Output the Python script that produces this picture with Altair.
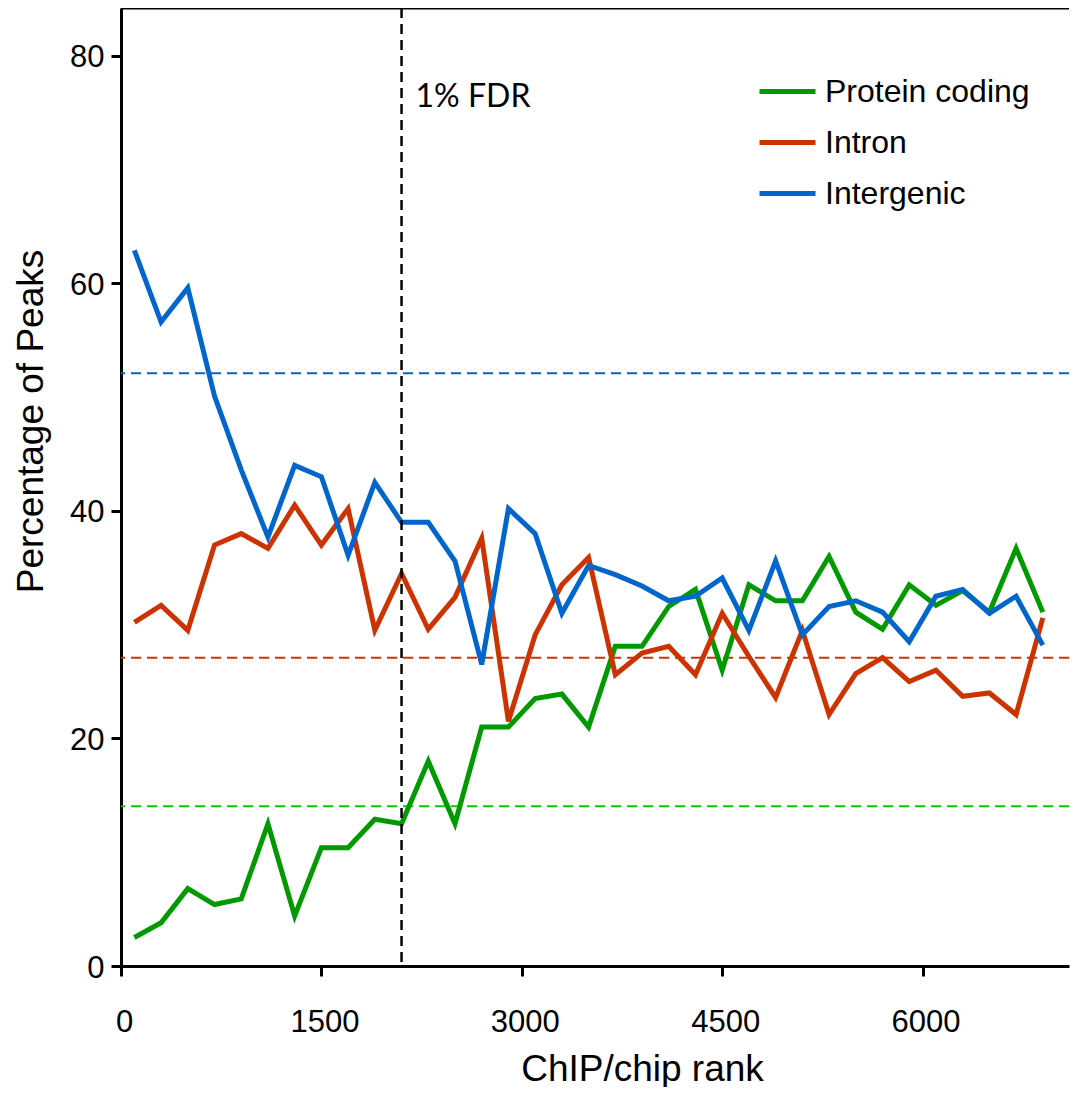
import altair as alt
import pandas as pd

# ---- data ----
ranks = [100, 300, 500, 700, 900, 1100, 1300, 1500, 1700, 1900, 2100, 2300,
         2500, 2700, 2900, 3100, 3300, 3500, 3700, 3900, 4100, 4300, 4500,
         4700, 4900, 5100, 5300, 5500, 5700, 5900, 6100, 6300, 6500, 6700, 6900]

protein_coding = [2.5, 3.8, 6.8, 5.4, 5.9, 12.5, 4.4, 10.4, 10.4, 12.9, 12.5, 18.0,
                  12.5, 21.0, 21.0, 23.5, 23.9, 21.0, 28.1, 28.1, 31.6, 33.1, 26.0,
                  33.5, 32.1, 32.1, 36.0, 31.1, 29.6, 33.5, 31.7, 33.0, 31.1, 36.7, 31.1]

intron = [30.2, 31.7, 29.5, 37.0, 38.0, 36.7, 40.5, 37.0, 40.2, 29.5, 34.5, 29.6,
          32.4, 37.6, 21.5, 29.1, 33.5, 35.9, 25.6, 27.5, 28.1, 25.6, 31.0,
          27.2, 23.6, 29.5, 22.1, 25.7, 27.1, 25.0, 26.0, 23.7, 24.0, 22.1, 30.6]

intergenic = [62.9, 56.6, 59.6, 50.1, 43.6, 37.7, 44.0, 43.0, 36.1, 42.5, 39.0, 39.0,
              35.6, 26.5, 40.2, 38.0, 31.0, 35.2, 34.4, 33.4, 32.1, 32.5, 34.1,
              29.5, 35.6, 29.1, 31.6, 32.1, 31.1, 28.5, 32.5, 33.1, 31.0, 32.5, 28.2]

series_names = ["Protein coding", "Intron", "Intergenic"]
line_colors = ["#009900", "#CC3300", "#0066CC"]
mean_colors = ["#00CC00", "#CC3300", "#0066CC"]
mean_values = [14.05, 27.1, 52.1]

fdr_rank = 2100
fdr_label = "1% FDR"
fdr_label_y = 75.5

x_ticks = [0, 1500, 3000, 4500, 6000]
y_ticks = [0, 20, 40, 60, 80]
x_max = 7096
y_max = 84.2

# ---- tables ----
rows = []
for name, vals in zip(series_names, [protein_coding, intron, intergenic]):
    for r, v in zip(ranks, vals):
        rows.append({"rank": r, "pct": v, "series": name})
df = pd.DataFrame(rows)
top_df = pd.DataFrame({"top": [y_max]})

FONT = "Liberation Sans"

x_scale = alt.Scale(domain=[0, x_max], nice=False, zero=False)
y_scale = alt.Scale(domain=[0, y_max], nice=False, zero=False)

x_axis = alt.Axis(values=x_ticks, title="ChIP/chip rank", tickSize=10,
                  labelPadding=31, labelOffset=3, labelFlush=False,
                  titleX=521, titleY=114, titleAlign="center",
                  titleBaseline="alphabetic", format="d")
y_axis = alt.Axis(values=y_ticks, title="Percentage of Peaks", tickSize=10,
                  labelPadding=7, labelOffset=2, labelFlush=False,
                  titleX=-79, titleY=413, titleAngle=270, titleAlign="center",
                  titleBaseline="alphabetic")

legend = alt.Legend(title=None, orient="none", legendX=636, legendY=53,
                    symbolType="stroke", symbolSize=3136, symbolStrokeWidth=5,
                    labelFont=FONT, labelFontSize=32, labelColor="black",
                    labelOffset=7, rowPadding=4, padding=0, labelLimit=400)

mean_rules = [
    alt.Chart(pd.DataFrame({"mean": [v]})).mark_rule(
        strokeDash=[10, 6], strokeWidth=2, color=c
    ).encode(y=alt.Y("mean:Q", scale=y_scale, axis=y_axis))
    for v, c in zip(mean_values, mean_colors)
]

base = alt.Chart(df).mark_line(strokeWidth=5, strokeJoin="miter").encode(
    x=alt.X("rank:Q", scale=x_scale, axis=x_axis),
    y=alt.Y("pct:Q", scale=y_scale, axis=y_axis),
    color=alt.Color("series:N", scale=alt.Scale(domain=series_names, range=line_colors),
                    legend=legend),
)
lines = [base.transform_filter(alt.datum.series == s) for s in series_names]

fdr_rule = alt.Chart(top_df).mark_rule(strokeDash=[10, 6], strokeWidth=2.5, color="black").encode(
    x=alt.X("fdr:Q", scale=x_scale, axis=x_axis)
).transform_calculate(fdr=str(fdr_rank))
fdr_text = alt.Chart(top_df).mark_text(font="Lato", fontSize=32, align="left",
                                       baseline="alphabetic", dx=14, color="black").encode(
    x=alt.X("fdr:Q", scale=x_scale, axis=x_axis),
    y=alt.Y("ly:Q", scale=y_scale, axis=y_axis),
    text=alt.value(fdr_label),
).transform_calculate(fdr=str(fdr_rank), ly=str(fdr_label_y))
top_rule = alt.Chart(top_df).mark_rule(strokeWidth=3, color="black").encode(
    y=alt.Y("top:Q", scale=y_scale, axis=y_axis)
)

chart = alt.layer(*mean_rules, *lines, fdr_rule, fdr_text, top_rule).properties(
    width=948, height=958,
    autosize=alt.AutoSizeParams(type="none"),
    padding={"left": 113, "top": 0, "right": 1, "bottom": 121},
).configure_view(stroke=None).configure_axis(
    domainColor="black", domainWidth=3, tickColor="black", tickWidth=3, grid=False,
    labelFont=FONT, labelFontSize=31, labelColor="black",
    titleFont=FONT, titleFontSize=37, titleFontWeight="normal", titleColor="black",
)

chart.save("out.html", embed_options={"renderer": "svg", "actions": False})
